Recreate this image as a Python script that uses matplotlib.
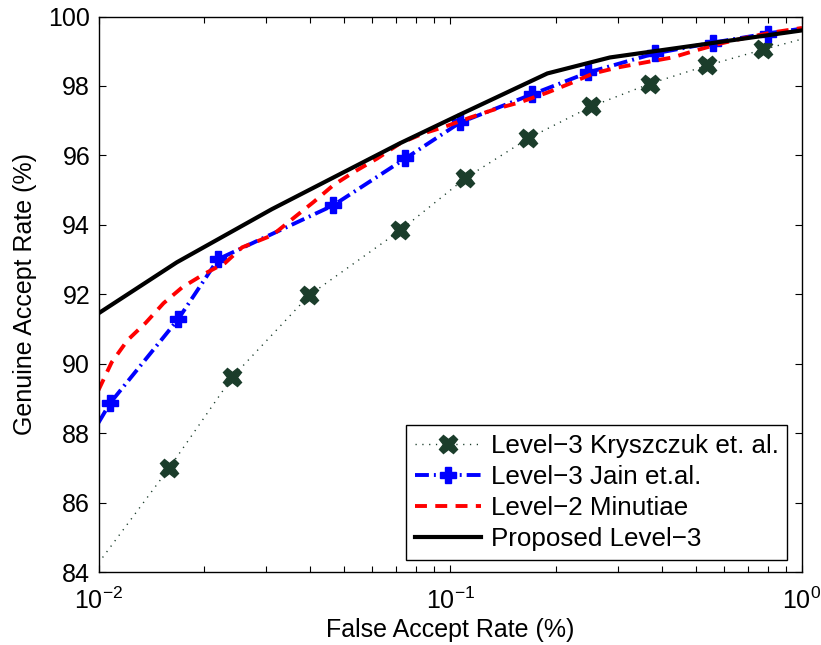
import matplotlib
matplotlib.use("Agg")
import matplotlib.pyplot as plt
from matplotlib.ticker import FixedLocator, FixedFormatter, NullFormatter, LogLocator

# ---------------- data ----------------
fa_kry = [0.0100, 0.01587, 0.0240, 0.0397, 0.0721, 0.1103, 0.1667, 0.2518, 0.3707, 0.5383, 0.777, 1.0]
gar_kry = [84.26, 86.99, 89.61, 91.97, 93.84, 95.34, 96.49, 97.41, 98.07, 98.59, 99.05, 99.35]

fa_jain = [0.0100, 0.01078, 0.01684, 0.02188, 0.04648, 0.0745, 0.1068, 0.1710, 0.2470, 0.3830, 0.560, 0.798, 1.0]
gar_jain = [88.30, 88.86, 91.28, 93.01, 94.56, 95.91, 96.95, 97.76, 98.39, 98.94, 99.25, 99.51, 99.65]

fa_min = [0.0100, 0.0109, 0.0121, 0.0136, 0.0153, 0.0173, 0.0201, 0.0229, 0.0256, 0.0312, 0.0358,
          0.0408, 0.0465, 0.0530, 0.0620, 0.0721, 0.0838, 0.0955, 0.114, 0.136, 0.158, 0.189,
          0.219, 0.255, 0.299, 0.359, 0.428, 0.498, 0.586, 0.700, 0.824, 1.0]
gar_min = [89.24, 90.04, 90.68, 91.17, 91.74, 92.20, 92.60, 92.90, 93.35, 93.70, 94.19,
           94.65, 95.14, 95.51, 95.91, 96.35, 96.63, 96.81, 97.09, 97.35, 97.53, 97.81,
           98.07, 98.36, 98.53, 98.68, 98.82, 99.02, 99.22, 99.40, 99.54, 99.67]

fa_prop = [0.0100, 0.0167, 0.0311, 0.0720, 0.1068, 0.1888, 0.2844, 1.0]
gar_prop = [91.45, 92.92, 94.45, 96.35, 97.18, 98.36, 98.82, 99.60]

labels = ["Level\u22123 Kryszczuk et. al.", "Level\u22123 Jain et.al.",
          "Level\u22122 Minutiae", "Proposed Level\u22123"]
xtick_vals = [0.01, 0.1, 1.0]
xtick_labels = [r"$\mathregular{10^{-2}}$", r"$\mathregular{10^{-1}}$", r"$\mathregular{10^{0}}$"]
ytick_vals = [84, 86, 88, 90, 92, 94, 96, 98, 100]

# ---------------- style ----------------
plt.rcParams["font.family"] = ["Liberation Sans", "DejaVu Sans"]
plt.rcParams["lines.scale_dashes"] = False
FS = 18

fig = plt.figure(figsize=(8.21, 6.45), dpi=100)
ax = fig.add_axes([98.5 / 821, 1 - 572 / 645, (802 - 98.5) / 821, (572 - 16.5) / 645])

green = "#1b3d2b"
n_k = len(fa_kry)
ax.plot(fa_kry, gar_kry, color=green, lw=1.0, dashes=(0.9, 4.0),
        marker="X", markersize=13, markerfacecolor=green, markeredgecolor=green,
        markevery=list(range(1, n_k - 1)), label=labels[0])
n_j = len(fa_jain)
ax.plot(fa_jain, gar_jain, color="#0000ff", lw=2.8, dashes=(10, 3.6, 1.4, 3.6),
        marker="P", markersize=12, markerfacecolor="#0000ff", markeredgecolor="#0000ff",
        markevery=list(range(1, n_j - 1)), label=labels[1])
ax.plot(fa_min, gar_min, color="#ff0000", lw=2.8, dashes=(8.6, 6.0), label=labels[2])
ax.plot(fa_prop, gar_prop, color="black", lw=3.0, solid_joinstyle="miter", label=labels[3])

ax.set_xscale("log")
ax.set_xlim(0.01, 1.0)
ax.set_ylim(84, 100)
ax.xaxis.set_major_locator(FixedLocator(xtick_vals))
ax.xaxis.set_major_formatter(FixedFormatter(xtick_labels))
ax.xaxis.set_minor_locator(LogLocator(base=10, subs=range(2, 10), numticks=20))
ax.xaxis.set_minor_formatter(NullFormatter())
ax.set_yticks(ytick_vals)

ax.tick_params(which="both", direction="in", top=True, right=True,
               labelsize=FS, width=0.8, colors="black")
ax.tick_params(which="major", length=5)
ax.tick_params(which="minor", length=4)
ax.tick_params(axis="x", which="major", pad=11)
ax.tick_params(axis="y", which="major", pad=6)
for s in ax.spines.values():
    s.set_linewidth(1.0)

ax.set_xlabel("False Accept Rate (%)", fontsize=FS, labelpad=3)
ax.set_ylabel("Genuine Accept Rate (%)", fontsize=FS, labelpad=8)

leg = ax.legend(loc="lower right", bbox_to_anchor=(0.9787, 0.0216), borderaxespad=0,
                fontsize=18.7, frameon=True, fancybox=False, framealpha=1, edgecolor="black",
                handlelength=2.55, handletextpad=0.36, labelspacing=0.28, borderpad=0.33,
                numpoints=1)
leg.get_frame().set_linewidth(1.0)

fig.savefig("out.png", dpi=100)
